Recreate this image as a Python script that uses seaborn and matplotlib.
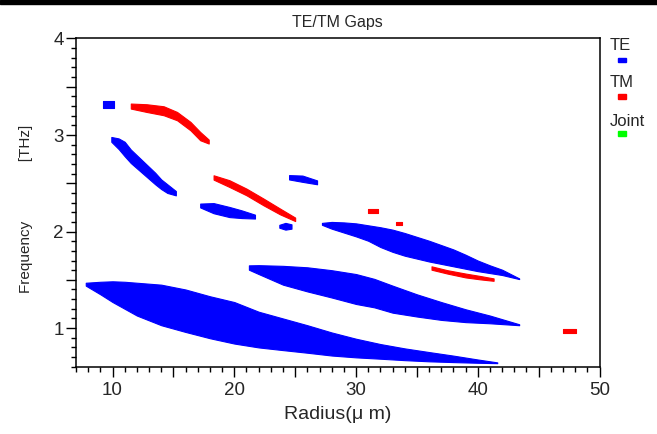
import numpy as np
import pandas as pd
import matplotlib
matplotlib.use('Agg')
import matplotlib.pyplot as plt
import matplotlib.ticker as mticker
from matplotlib.patches import Rectangle
import seaborn as sns

# ---- gap bands: radius (um), lower / upper edge (THz)
te1_r  = [7.8, 9, 10, 11, 12, 14, 16, 18, 20, 22, 24, 26, 28, 30, 32, 34, 36, 38, 40, 41.6]
te1_hi = [1.47, 1.48, 1.485, 1.48, 1.47, 1.45, 1.40, 1.33, 1.27, 1.17, 1.10, 1.03, 0.955, 0.89, 0.835, 0.79, 0.752, 0.715, 0.675, 0.645]
te1_lo = [1.44, 1.35, 1.27, 1.20, 1.13, 1.03, 0.96, 0.895, 0.84, 0.80, 0.772, 0.745, 0.716, 0.697, 0.683, 0.668, 0.656, 0.648, 0.641, 0.637]

te2_r  = [21.2, 22, 24, 26, 28, 30, 31.5, 33, 35, 37, 39, 41, 43.4]
te2_hi = [1.65, 1.652, 1.645, 1.63, 1.60, 1.56, 1.51, 1.44, 1.35, 1.27, 1.195, 1.13, 1.04]
te2_lo = [1.605, 1.56, 1.45, 1.38, 1.317, 1.25, 1.215, 1.16, 1.12, 1.085, 1.062, 1.05, 1.03]

te3_r  = [27.2, 28, 29, 30, 31, 32, 33, 34, 35, 36, 37, 38, 39, 40, 41, 42, 43.4]
te3_hi = [2.09, 2.10, 2.095, 2.085, 2.065, 2.045, 2.02, 1.985, 1.945, 1.905, 1.86, 1.815, 1.76, 1.70, 1.65, 1.605, 1.515]
te3_lo = [2.07, 2.03, 1.99, 1.95, 1.905, 1.84, 1.79, 1.75, 1.72, 1.69, 1.665, 1.64, 1.615, 1.59, 1.57, 1.55, 1.508]

te4_r  = [9.9, 10.5, 11, 11.5, 12, 12.5, 13, 13.5, 14, 14.5, 15.2]
te4_hi = [2.98, 2.965, 2.93, 2.85, 2.79, 2.73, 2.67, 2.61, 2.54, 2.49, 2.42]
te4_lo = [2.93, 2.855, 2.78, 2.71, 2.655, 2.60, 2.545, 2.49, 2.44, 2.40, 2.375]

te5_r  = [17.2, 18.3, 19.6, 20.6, 21.7]
te5_hi = [2.29, 2.295, 2.255, 2.22, 2.175]
te5_lo = [2.25, 2.19, 2.15, 2.14, 2.135]

te6_r  = [9.2, 10.1]
te6_hi = [3.35, 3.35]
te6_lo = [3.285, 3.285]

te7_r  = [23.7, 24.2, 24.7]
te7_hi = [2.07, 2.09, 2.075]
te7_lo = [2.04, 2.02, 2.03]

te8_r  = [24.5, 25.6, 26.8]
te8_hi = [2.585, 2.58, 2.53]
te8_lo = [2.54, 2.515, 2.49]

tm1_r  = [11.5, 12.8, 14.2, 15.3, 16.4, 17.2, 17.9]
tm1_hi = [3.326, 3.319, 3.298, 3.239, 3.136, 3.032, 2.953]
tm1_lo = [3.274, 3.239, 3.205, 3.153, 3.049, 2.946, 2.912]

tm2_r  = [18.3, 19.6, 21.0, 22.4, 23.75, 25.0]
tm2_hi = [2.583, 2.532, 2.445, 2.342, 2.239, 2.145]
tm2_lo = [2.538, 2.462, 2.376, 2.272, 2.179, 2.109]

tm3_r  = [36.2, 37.5, 39, 40.2, 41.3]
tm3_hi = [1.64, 1.60, 1.565, 1.54, 1.515]
tm3_lo = [1.605, 1.565, 1.525, 1.505, 1.49]

tm4_r  = [31.0, 31.8]
tm4_hi = [2.23, 2.23]
tm4_lo = [2.19, 2.19]

tm5_r  = [33.3, 33.8]
tm5_hi = [2.095, 2.095]
tm5_lo = [2.065, 2.065]

tm6_r  = [47.0, 48.1]
tm6_hi = [0.99, 0.99]
tm6_lo = [0.95, 0.95]

te_bands = [(te1_r, te1_lo, te1_hi), (te2_r, te2_lo, te2_hi), (te3_r, te3_lo, te3_hi),
            (te4_r, te4_lo, te4_hi), (te5_r, te5_lo, te5_hi), (te6_r, te6_lo, te6_hi),
            (te7_r, te7_lo, te7_hi), (te8_r, te8_lo, te8_hi)]
tm_bands = [(tm1_r, tm1_lo, tm1_hi), (tm2_r, tm2_lo, tm2_hi), (tm3_r, tm3_lo, tm3_hi),
            (tm4_r, tm4_lo, tm4_hi), (tm5_r, tm5_lo, tm5_hi), (tm6_r, tm6_lo, tm6_hi)]

legend_labels = ['TE', 'TM', 'Joint']
legend_colors = ['#0000FF', '#FF0000', '#00FF00']

sns.set_style("ticks")
plt.rcParams['font.family'] = ['Liberation Sans', 'DejaVu Sans']

fig = plt.figure(figsize=(6.57, 4.34), dpi=100)
ax = fig.add_axes([0.1157, 0.155, 0.7968, 0.7563])

for r, lo, hi in te_bands:
    ax.fill_between(r, lo, hi, color='#0000FF', lw=0.8, edgecolor='#0000FF')
for r, lo, hi in tm_bands:
    ax.fill_between(r, lo, hi, color='#FF0000', lw=0.8, edgecolor='#FF0000')

ax.set_xlim(7, 50)
ax.set_ylim(0.6, 4)

ax.xaxis.set_major_locator(mticker.MultipleLocator(5))
ax.xaxis.set_minor_locator(mticker.MultipleLocator(1))
ax.xaxis.set_major_formatter(mticker.FuncFormatter(lambda v, p: '%d' % v if v % 10 == 0 else ''))
ax.yaxis.set_major_locator(mticker.MultipleLocator(0.5))
ax.yaxis.set_minor_locator(mticker.MultipleLocator(0.1))
ax.yaxis.set_major_formatter(mticker.FuncFormatter(lambda v, p: '%d' % v if abs(v - round(v)) < 1e-6 else ''))

ax.tick_params(which='major', direction='out', length=7, width=1, labelsize=13.5, pad=4, color='black')
ax.tick_params(axis='y', which='major', pad=2)
ax.tick_params(which='minor', direction='out', length=3.5, width=1, color='black')
ax.tick_params(top=False, right=False, which='both')
for s in ax.spines.values():
    s.set_linewidth(1.1)
    s.set_color('black')

ax.set_xlabel('Radius(\u03bc m)', fontsize=14, labelpad=5)
ax.set_ylabel('Frequency              [THz]', fontsize=11)
ax.yaxis.set_label_coords(-0.082, 0.48)
ax.set_title('TE/TM Gaps', fontsize=11.5, pad=8)

# legend on the right
ty = [0.895, 0.809, 0.720]
my = [0.857, 0.772, 0.687]
for lab, col, t, m in zip(legend_labels, legend_colors, ty, my):
    fig.text(0.928, t, lab, fontsize=12, va='center', ha='left')
    fig.patches.append(Rectangle((0.9406, m), 0.0122, 0.0105, color=col, transform=fig.transFigure))

fig.patches.append(Rectangle((0, 1 - 4 / 434), 1, 4 / 434, color='black', transform=fig.transFigure))

fig.savefig('out.png', dpi=100)
